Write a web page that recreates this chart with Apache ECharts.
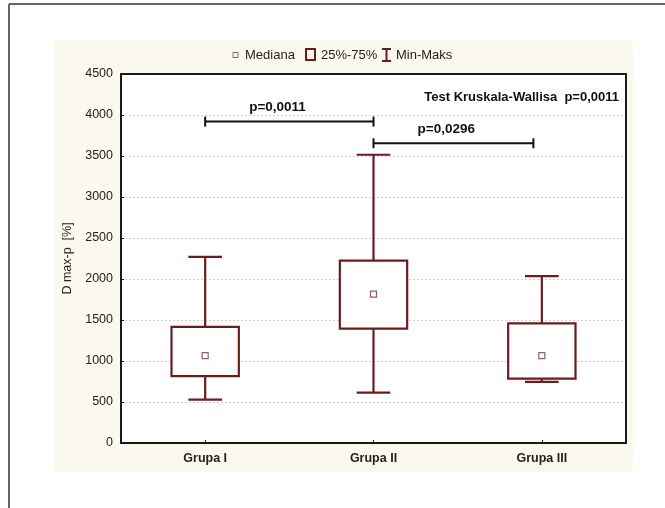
<!DOCTYPE html>
<html>
<head>
<meta charset="utf-8">
<script src="https://cdn.jsdelivr.net/npm/echarts@6/dist/echarts.min.js"></script>
<style>
html,body{margin:0;padding:0;background:#fff;}
#chart{width:665px;height:508px;}
</style>
</head>
<body>
<div id="chart"></div>
<script>
const categories = ['Grupa I', 'Grupa II', 'Grupa III'];
const minVals = [530, 615, 745];
const q1Vals = [815, 1395, 785];
const medianVals = [1065, 1815, 1065];
const q3Vals = [1415, 2225, 1460];
const maxVals = [2270, 3515, 2035];
const yMin = 0, yMax = 4500, yStep = 500;

const bracketFrom = [0, 1];
const bracketTo = [1, 1.95];
const bracketY = [3920, 3655];
const bracketLabels = ['p=0,0011', 'p=0,0296'];

const testLabel = 'Test Kruskala-Wallisa  p=0,0011';
const yAxisName = 'D max-p  [%]';
const legendNames = ['Mediana', '25%-75%', 'Min-Maks'];

const boxColor = '#6b1d1d';
const medColor = '#8e6262';
const FONT = 'Liberation Sans, Arial, sans-serif';
const W = 665, H = 508;
const GRID = {left: 121, right: 39, top: 74, bottom: 65};

const boxData = categories.map((c, i) => [i, minVals[i], q1Vals[i], medianVals[i], q3Vals[i], maxVals[i]]);
const bracketData = bracketFrom.map((f, i) => [f, bracketTo[i], bracketY[i]]);

function pt(api, xv, yv) {
  const a = Math.floor(xv), b = Math.ceil(xv);
  const pa = api.coord([a, yv]);
  if (a === b) return pa;
  const pb = api.coord([b, yv]);
  const t = xv - a;
  return [pa[0] + (pb[0] - pa[0]) * t, pa[1]];
}

const chart = echarts.init(document.getElementById('chart'), null, {renderer: 'canvas'});
chart.setOption({
  animation: false,
  backgroundColor: '#fff',
  grid: Object.assign({show: true, backgroundColor: '#fff', borderWidth: 0}, GRID),
  xAxis: {
    type: 'category', data: categories, boundaryGap: true,
    axisLine: {show: true, lineStyle: {color: '#1a1a1a', width: 2}},
    axisTick: {show: true, inside: true, length: 3, alignWithLabel: true, lineStyle: {color: '#1a1a1a'}},
    axisLabel: {color: '#222', fontFamily: FONT, fontSize: 12.5, fontWeight: 'bold', margin: 9},
    splitLine: {show: false}
  },
  yAxis: {
    type: 'value', min: yMin, max: yMax, interval: yStep,
    name: yAxisName, nameLocation: 'middle', nameGap: 47, nameRotate: 90,
    nameTextStyle: {color: '#222', fontFamily: FONT, fontSize: 12.5},
    axisLine: {show: true, lineStyle: {color: '#1a1a1a', width: 2}},
    axisTick: {show: true, inside: true, length: 3, lineStyle: {color: '#1a1a1a'}},
    axisLabel: {color: '#222', fontFamily: FONT, fontSize: 12.5, margin: 8, formatter: v => String(v)},
    splitLine: {show: true, lineStyle: {color: '#cfcfcf', type: [2, 2], width: 1}}
  },
  series: [
    {
      name: legendNames[2], type: 'custom', data: boxData,
      encode: {x: 0, y: [1, 2, 3, 4, 5]},
      renderItem: function (params, api) {
        const i = api.value(0);
        const bw = api.size([1, 0])[0];
        const capW = bw * 0.2;
        const pMin = api.coord([i, api.value(1)]);
        const pQ1 = api.coord([i, api.value(2)]);
        const pQ3 = api.coord([i, api.value(4)]);
        const pMax = api.coord([i, api.value(5)]);
        const x = pMin[0];
        const st = {stroke: boxColor, lineWidth: 2.2};
        return {type: 'group', children: [
          {type: 'line', shape: {x1: x, y1: pMin[1], x2: x, y2: pQ1[1]}, style: st},
          {type: 'line', shape: {x1: x, y1: pQ3[1], x2: x, y2: pMax[1]}, style: st},
          {type: 'line', shape: {x1: x - capW / 2, y1: pMin[1], x2: x + capW / 2, y2: pMin[1]}, style: st},
          {type: 'line', shape: {x1: x - capW / 2, y1: pMax[1], x2: x + capW / 2, y2: pMax[1]}, style: st}
        ]};
      }
    },
    {
      name: legendNames[1], type: 'custom', data: boxData,
      encode: {x: 0, y: [2, 4]},
      renderItem: function (params, api) {
        const i = api.value(0);
        const bw = api.size([1, 0])[0] * 0.4;
        const pQ1 = api.coord([i, api.value(2)]);
        const pQ3 = api.coord([i, api.value(4)]);
        return {type: 'rect', shape: {x: pQ1[0] - bw / 2, y: pQ3[1], width: bw, height: pQ1[1] - pQ3[1]},
          style: {fill: '#fff', stroke: boxColor, lineWidth: 2.2}};
      }
    },
    {
      name: legendNames[0], type: 'custom', data: boxData,
      encode: {x: 0, y: 3},
      renderItem: function (params, api) {
        const i = api.value(0);
        const p = api.coord([i, api.value(3)]);
        return {type: 'rect', shape: {x: p[0] - 3, y: p[1] - 3, width: 6, height: 6},
          style: {fill: '#fff', stroke: medColor, lineWidth: 1.2}};
      }
    },
    {
      name: 'brackets', type: 'custom', data: bracketData,
      encode: {x: [0, 1], y: 2},
      renderItem: function (params, api) {
        const p1 = pt(api, api.value(0), api.value(2));
        const p2 = pt(api, api.value(1), api.value(2));
        const st = {stroke: '#111', lineWidth: 2};
        return {type: 'group', children: [
          {type: 'line', shape: {x1: p1[0], y1: p1[1], x2: p2[0], y2: p2[1]}, style: st},
          {type: 'line', shape: {x1: p1[0], y1: p1[1] - 5, x2: p1[0], y2: p1[1] + 5}, style: st},
          {type: 'line', shape: {x1: p2[0], y1: p2[1] - 5, x2: p2[0], y2: p2[1] + 5}, style: st},
          {type: 'text', style: {x: p1[0] + 44, y: p1[1] - 7, text: bracketLabels[params.dataIndex],
            fill: '#111', font: 'bold 13.5px ' + FONT, align: 'left', verticalAlign: 'bottom'}}
        ]};
      }
    }
  ],
  graphic: [
    {type: 'rect', z: -10, shape: {x: 55, y: 40, width: 578, height: 432}, style: {fill: '#fbf9ee'}},
    {type: 'rect', z: 50, silent: true,
      shape: {x: GRID.left, y: GRID.top, width: W - GRID.left - GRID.right, height: H - GRID.top - GRID.bottom},
      style: {fill: 'none', stroke: '#1a1a1a', lineWidth: 2}},
    {type: 'line', shape: {x1: 9, y1: 4, x2: 665, y2: 4}, style: {stroke: '#666', lineWidth: 2}},
    {type: 'line', shape: {x1: 9, y1: 4, x2: 9, y2: 508}, style: {stroke: '#666', lineWidth: 2}},
    {type: 'text', z: 10, style: {x: 619, y: 97, text: testLabel, fill: '#111', font: 'bold 13px ' + FONT, align: 'right', verticalAlign: 'middle'}},
    {type: 'rect', shape: {x: 233, y: 52.5, width: 5, height: 5}, style: {fill: '#fff', stroke: medColor, lineWidth: 1}},
    {type: 'text', style: {x: 245, y: 55, text: legendNames[0], fill: '#222', font: '13px ' + FONT, verticalAlign: 'middle'}},
    {type: 'rect', shape: {x: 306, y: 49, width: 9, height: 11}, style: {fill: 'none', stroke: boxColor, lineWidth: 2}},
    {type: 'text', style: {x: 321, y: 55, text: legendNames[1], fill: '#222', font: '13px ' + FONT, verticalAlign: 'middle'}},
    {type: 'line', shape: {x1: 382, y1: 49, x2: 391, y2: 49}, style: {stroke: boxColor, lineWidth: 2}},
    {type: 'line', shape: {x1: 386.5, y1: 49, x2: 386.5, y2: 61}, style: {stroke: boxColor, lineWidth: 2}},
    {type: 'line', shape: {x1: 382, y1: 61, x2: 391, y2: 61}, style: {stroke: boxColor, lineWidth: 2}},
    {type: 'text', style: {x: 396, y: 55, text: legendNames[2], fill: '#222', font: '13px ' + FONT, verticalAlign: 'middle'}}
  ]
});
</script>
</body>
</html>
